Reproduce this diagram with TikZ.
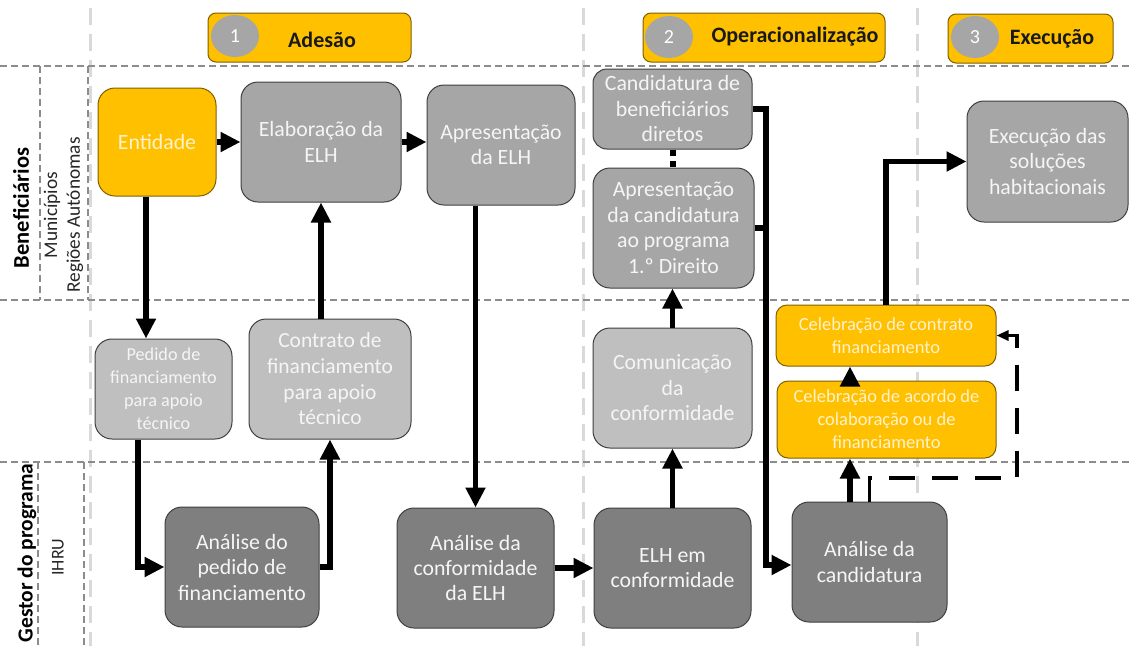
\documentclass[tikz,border=0pt]{standalone}
\usepackage{fontspec}
\setmainfont{Carlito}
\usetikzlibrary{calc,arrows.meta,shapes.geometric}
\definecolor{orng}{HTML}{FFC000}
\definecolor{orngline}{HTML}{7F6000}
\definecolor{gmid}{HTML}{A6A6A6}
\definecolor{glight}{HTML}{BFBFBF}
\definecolor{gdark}{HTML}{7F7F7F}
\definecolor{boxline}{HTML}{404040}
\definecolor{phaseline}{HTML}{D9D9D9}
\definecolor{laneline}{HTML}{8C8C8C}
\definecolor{cream}{HTML}{FFF2CC}
\definecolor{txtw}{HTML}{F5F5F5}
\begin{document}
\begin{tikzpicture}[x=1pt,y=-1pt,
  box/.style={draw=boxline, line width=1pt, rounded corners=17pt, align=center, inner sep=0pt,
    text=txtw, font=\fontsize{21.8}{25.5}\selectfont},
  midbox/.style={box, fill=gmid},
  lightbox/.style={box, fill=glight},
  darkbox/.style={box, fill=gdark},
  orbox/.style={box, fill=orng, draw=orngline, text=cream},
  smallor/.style={orbox, rounded corners=11pt, font=\fontsize{18.5}{23}\selectfont},
  phasebox/.style={draw=orngline, line width=1pt, fill=orng, rounded corners=8pt, inner sep=0pt},
  numcirc/.style={ellipse, fill=gmid, draw=none, minimum width=48pt, minimum height=42pt, inner sep=0pt,
    text=white, font=\fontsize{20}{22}\selectfont},
  phasetext/.style={font=\bfseries\fontsize{22}{24}\selectfont, text=black!90, inner sep=0pt},
  lanetext/.style={font=\bfseries\fontsize{22.5}{24}\selectfont, text=black, inner sep=0pt, rotate=90},
  subtext/.style={font=\fontsize{19.3}{22}\selectfont, text=black!85, inner sep=0pt, rotate=90},
  laneline/.style={draw=laneline, line width=1.1pt, dash pattern=on 7pt off 4pt},
  phaseline/.style={draw=phaseline, line width=3pt, dash pattern=on 17pt off 9pt},
  arr/.style={line width=5.5pt, line join=miter, -{Triangle[length=20pt,width=19pt]}},
  plain/.style={line width=5.5pt, line join=miter},
  dotarr/.style={line width=6pt, dash pattern=on 6pt off 5pt, -{Triangle[length=20pt,width=19pt]}},
  dotline/.style={line width=6pt, dash pattern=on 6pt off 5pt},
  dasharr/.style={line width=3.5pt, line join=miter, dash pattern=on 26pt off 17pt, -{Triangle[length=12pt,width=10pt]}}
]
\useasboundingbox[fill=white] (0,0) rectangle (1132,646);

% phase separators
\draw[phaseline] (90,8) -- (90,646);
\draw[phaseline] (583,8) -- (583,646);
\draw[phaseline] (917,8) -- (917,646);

% lane separators
\draw[laneline] (0,66) -- (1132,66);
\draw[laneline] (0,300) -- (1132,300);
\draw[laneline] (0,462) -- (1132,462);
\draw[laneline] (40,66) -- (40,300);
\draw[laneline] (88,66) -- (88,300);
\draw[laneline] (38,462) -- (38,646);
\draw[laneline] (84,462) -- (84,646);

% lane labels
\node[lanetext] (benef) at (21,208) {Beneficiários};
\node[subtext] (mun) at (52,215) {Municípios};
\node[subtext] (reg) at (75,215) {Regiões Autónomas};
\node[lanetext, font=\bfseries\fontsize{21.5}{24}\selectfont] (gestor) at (27,553) {Gestor do programa};
\node[subtext, font=\fontsize{18}{20}\selectfont] (ihru) at (58,557) {IHRU};

% phase headers
\node[phasebox, minimum width=203pt, minimum height=49pt] (ph1) at (309.5,37.5) {};
\node[numcirc] (n1) at (235,36) {1};
\node[phasetext] (t1) at (322,40) {Adesão};
\node[phasebox, minimum width=242pt, minimum height=49pt] (ph2) at (764,37.5) {};
\node[numcirc] (n2) at (669,37) {2};
\node[phasetext] (t2) at (795,37) {Operacionalização};
\node[phasebox, minimum width=165pt, minimum height=49pt] (ph3) at (1030.5,38.5) {};
\node[numcirc] (n3) at (975,37) {3};
\node[phasetext] (t3) at (1052,39) {Execução};

% top lane
\node[orbox, minimum width=118pt, minimum height=108pt] (ent) at (157,142) {Entidade};
\node[midbox, minimum width=160pt, minimum height=120pt] (elab) at (321,142) {Elaboração da\\ELH};
\node[midbox, minimum width=148pt, minimum height=120pt] (apres) at (501,145) {Apresentação\\da ELH};
\node[midbox, minimum width=159pt, minimum height=80pt, rounded corners=14pt] (candben) at (672.5,109) {Candidatura de\\beneficiários\\diretos};
\node[midbox, minimum width=161pt, minimum height=120pt] (apcand) at (673.5,228) {Apresentação\\da candidatura\\ao programa\\1.º Direito};
\node[midbox, minimum width=161pt, minimum height=121pt] (exec) at (1047.5,161.5) {Execução das\\soluções\\habitacionais};

% middle lane
\node[lightbox, minimum width=137pt, minimum height=100pt, font=\fontsize{18.2}{23}\selectfont] (ped) at (163.5,389) {Pedido de\\financiamento\\para apoio\\técnico};
\node[lightbox, minimum width=162pt, minimum height=120pt, font=\fontsize{21.5}{25.7}\selectfont] (contr) at (330,379) {Contrato de\\financiamento\\para apoio\\técnico};
\node[lightbox, minimum width=159pt, minimum height=120pt] (comun) at (672.5,388) {Comunicação\\da\\conformidade};
\node[smallor, minimum width=220pt, minimum height=61pt] (celco) at (886,335.5) {Celebração de contrato\\financiamento};
\node[smallor, minimum width=219pt, minimum height=77pt] (celac) at (886.5,419.5) {Celebração de acordo de\\colaboração ou de\\financiamento};

% bottom lane
\node[darkbox, minimum width=154pt, minimum height=120pt] (anped) at (242,567) {Análise do\\pedido de\\financiamento};
\node[darkbox, minimum width=157pt, minimum height=120pt] (anconf) at (475.5,568) {Análise da\\conformidade\\da ELH};
\node[darkbox, minimum width=157pt, minimum height=120pt] (elhconf) at (672.5,568) {ELH em\\conformidade};
\node[darkbox, minimum width=155pt, minimum height=120pt] (ancand) at (869.5,562) {Análise da\\candidatura};

% connectors
\draw[dotarr] (ent.east) -- (elab.west);
\draw[arr] (elab.east) -- (elab.east -| apres.west);

\coordinate (c1) at ($(ent.south)+(-11,0)$);
\draw[arr] (c1) -- (c1 |- ped.north);

\coordinate (c2) at ($(ped.south)+(-25.5,0)$);
\draw[arr] (c2) |- (anped.west);

\draw[arr] (anped.east) -| (contr.south);
\draw[arr] (contr.north -| elab.south) -- (elab.south);

\draw[arr] (apres.south -| anconf.north) -- (anconf.north);
\draw[arr] (anconf.east) -- (elhconf.west);
\draw[arr] (elhconf.north) -- (comun.south);
\draw[arr] (comun.north) -- (comun.north |- apcand.south);
\draw[dotline] (candben.south) -- (candben.south |- apcand.north);

\coordinate (bus) at (766,565);
\draw[arr] (candben.east) -| (bus) -- (bus -| ancand.west);
\draw[plain] (apcand.east) -- (apcand.east -| bus);

\coordinate (c3) at ($(ancand.north)+(-19.5,0)$);
\draw[arr] (c3) -- (c3 |- celac.south);
\coordinate (c4) at ($(celac.north)+(-36.5,0)$);
\draw[arr] (c4) -- (c4 |- celco.south);

\draw[arr] (celco.north) |- (exec.west);

\coordinate (dc) at (1017,478);
\draw[dasharr] (ancand.north) |- (dc) |- (celco.east);

\end{tikzpicture}
\end{document}
